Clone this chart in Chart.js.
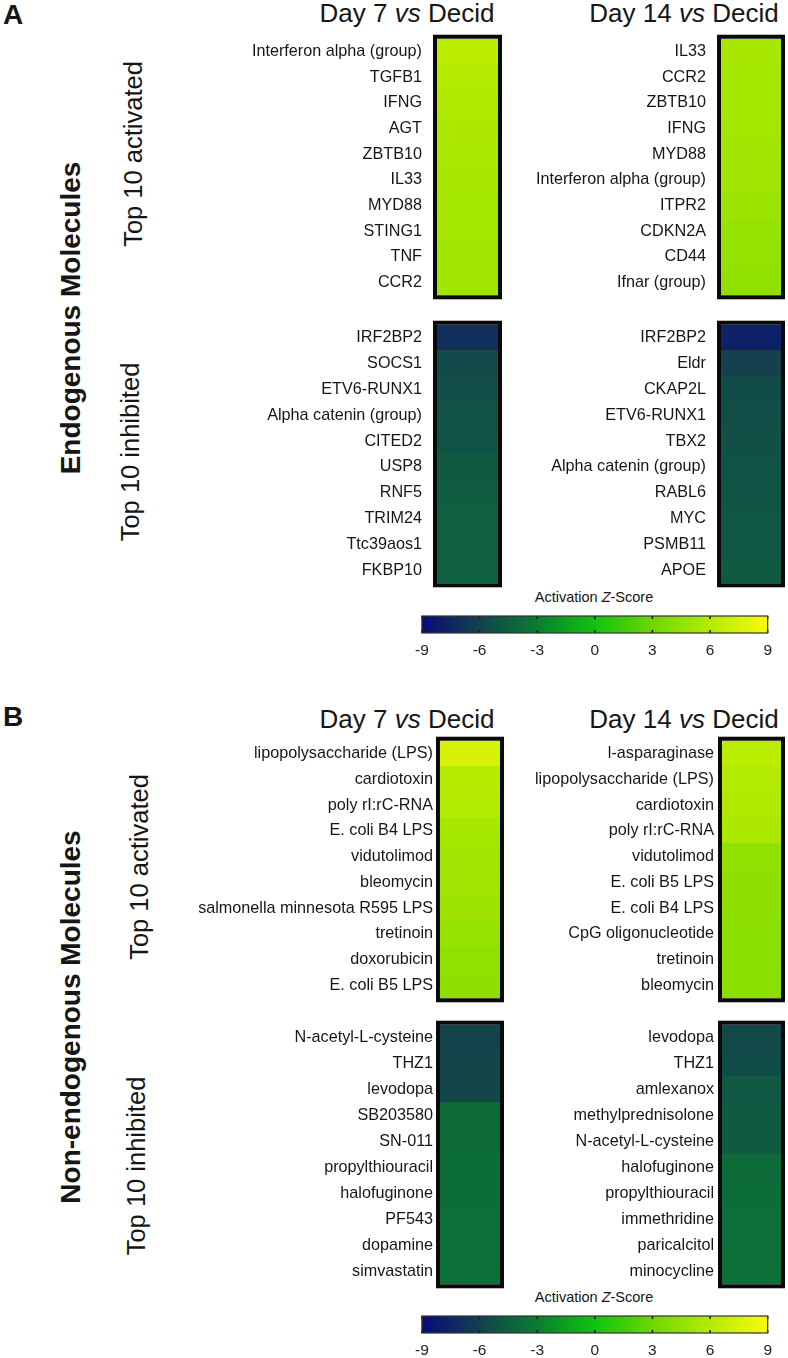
<!DOCTYPE html>
<html>
<head>
<meta charset="utf-8">
<script src="https://cdn.jsdelivr.net/npm/chart.js@4.4.1/dist/chart.umd.min.js"></script>
<style>
html,body{margin:0;padding:0;background:#fff;}
body{width:788px;height:1358px;position:relative;overflow:hidden;font-family:"Liberation Sans",Arial,Helvetica,sans-serif;color:#161616;}
.t{position:absolute;white-space:nowrap;line-height:1;}
.c{transform:translateX(-50%);}
.r{transform:translate(-50%,-50%) rotate(-90deg);}
canvas{position:absolute;}
</style>
</head>
<body>
<div class="t" style="left:3px;top:1px;font-size:28px;font-weight:bold;">A</div>
<div class="t" style="left:3px;top:703px;font-size:28px;font-weight:bold;">B</div>

<div class="t c" style="left:407px;top:0px;font-size:26px;">Day 7 <i>vs</i> Decid</div>
<div class="t c" style="left:684px;top:0px;font-size:26px;">Day 14 <i>vs</i> Decid</div>
<div class="t c" style="left:407px;top:706px;font-size:26px;">Day 7 <i>vs</i> Decid</div>
<div class="t c" style="left:684px;top:706px;font-size:26px;">Day 14 <i>vs</i> Decid</div>

<div class="t r" style="left:71px;top:318px;font-size:28px;font-weight:bold;">Endogenous Molecules</div>
<div class="t r" style="left:134px;top:154px;font-size:25.5px;">Top 10 activated</div>
<div class="t r" style="left:131px;top:452px;font-size:25.5px;">Top 10 inhibited</div>

<div class="t r" style="left:71px;top:1017px;font-size:28px;font-weight:bold;">Non-endogenous Molecules</div>
<div class="t r" style="left:140px;top:867px;font-size:25.5px;">Top 10 activated</div>
<div class="t r" style="left:137px;top:1166px;font-size:25.5px;">Top 10 inhibited</div>

<div class="t c" style="left:594px;top:590px;font-size:14.5px;">Activation <i>Z</i>-Score</div>
<div class="t c" style="left:594px;top:1290px;font-size:14.5px;">Activation <i>Z</i>-Score</div>

<script>
// ---------------- DATA ----------------
const endoD7ActLabels = ["Interferon alpha (group)","TGFB1","IFNG","AGT","ZBTB10","IL33","MYD88","STING1","TNF","CCR2"];
const endoD7ActZ = [6.3, 6.0, 5.8, 5.7, 5.6, 5.5, 5.4, 5.3, 5.2, 5.2];
const endoD14ActLabels = ["IL33","CCR2","ZBTB10","IFNG","MYD88","Interferon alpha (group)","ITPR2","CDKN2A","CD44","Ifnar (group)"];
const endoD14ActZ = [5.5, 5.4, 5.4, 5.3, 5.2, 5.1, 4.9, 4.7, 4.6, 4.5];
const endoD7InhLabels = ["IRF2BP2","SOCS1","ETV6-RUNX1","Alpha catenin (group)","CITED2","USP8","RNF5","TRIM24","Ttc39aos1","FKBP10"];
const endoD7InhZ = [-7.0, -5.5, -5.3, -5.1, -5.0, -4.7, -4.6, -4.5, -4.5, -4.4];
const endoD14InhLabels = ["IRF2BP2","Eldr","CKAP2L","ETV6-RUNX1","TBX2","Alpha catenin (group)","RABL6","MYC","PSMB11","APOE"];
const endoD14InhZ = [-7.8, -6.0, -5.4, -5.3, -5.2, -5.1, -5.0, -4.9, -4.8, -4.7];

const nonD7ActLabels = ["lipopolysaccharide (LPS)","cardiotoxin","poly rI:rC-RNA","E. coli B4 LPS","vidutolimod","bleomycin","salmonella minnesota R595 LPS","tretinoin","doxorubicin","E. coli B5 LPS"];
const nonD7ActZ = [7.5, 6.1, 5.9, 5.4, 5.2, 5.1, 5.0, 4.7, 4.5, 4.4];
const nonD14ActLabels = ["l-asparaginase","lipopolysaccharide (LPS)","cardiotoxin","poly rI:rC-RNA","vidutolimod","E. coli B5 LPS","E. coli B4 LPS","CpG oligonucleotide","tretinoin","bleomycin"];
const nonD14ActZ = [6.3, 5.9, 5.8, 5.7, 4.5, 4.4, 4.4, 4.3, 4.3, 4.2];
const nonD7InhLabels = ["N-acetyl-L-cysteine","THZ1","levodopa","SB203580","SN-011","propylthiouracil","halofuginone","PF543","dopamine","simvastatin"];
const nonD7InhZ = [-5.8, -5.7, -5.7, -3.9, -3.9, -3.8, -3.8, -3.7, -3.7, -3.6];
const nonD14InhLabels = ["levodopa","THZ1","amlexanox","methylprednisolone","N-acetyl-L-cysteine","halofuginone","propylthiouracil","immethridine","paricalcitol","minocycline"];
const nonD14InhZ = [-5.5, -5.4, -4.8, -4.7, -4.7, -3.9, -3.8, -3.7, -3.7, -3.6];

const colorbarTicks = [-9, -6, -3, 0, 3, 6, 9];
const zMin = -9, zMax = 9;

// ---------------- STYLE ----------------
const FONT = '"Liberation Sans", Arial, Helvetica, sans-serif';
const cmapStops = [
  [-9, [10, 10, 120]],
  [-6, [20, 64, 78]],
  [-3, [10, 125, 50]],
  [0, [15, 195, 15]],
  [3, [110, 215, 0]],
  [6, [180, 235, 0]],
  [9, [250, 250, 10]]
];
function zColor(z) {
  z = Math.max(zMin, Math.min(zMax, z));
  for (let i = 0; i < cmapStops.length - 1; i++) {
    const [a, ca] = cmapStops[i], [b, cb] = cmapStops[i + 1];
    if (z >= a && z <= b) {
      const t = (z - a) / (b - a);
      const c = ca.map((v, k) => Math.round(v + (cb[k] - v) * t));
      return `rgb(${c[0]},${c[1]},${c[2]})`;
    }
  }
  return 'rgb(0,0,0)';
}

// place a chart so that its chart area lands exactly on the given box
function placeChart(chart, canvas, box) {
  const a = chart.chartArea;
  const ml = a.left, mt = a.top;
  const mr = canvas.width - a.right, mb = canvas.height - a.bottom;
  chart.resize(Math.round(box.w + ml + mr), Math.round(box.h + mt + mb));
  const a2 = chart.chartArea;
  canvas.style.left = (box.x - a2.left) + 'px';
  canvas.style.top = (box.y - a2.top) + 'px';
}

const boxBorder = {
  id: 'boxBorder',
  afterDatasetsDraw(chart) {
    const {ctx, chartArea: a} = chart;
    ctx.save();
    ctx.lineWidth = 4;
    ctx.strokeStyle = '#0a0a0a';
    ctx.strokeRect(a.left - 2, a.top - 2, a.right - a.left + 4, a.bottom - a.top + 4);
    ctx.restore();
  }
};

function heatmap(labels, values, box, labelW, labelPad) {
  const canvas = document.createElement('canvas');
  canvas.width = labelW + box.w + 8;
  canvas.height = box.h + 40;
  document.body.appendChild(canvas);
  const chart = new Chart(canvas, {
    type: 'bar',
    data: {
      labels: labels,
      datasets: [{
        data: labels.map((l, i) => ({y: l, x: [0, 1], z: values[i]})),
        backgroundColor: c => (c.raw ? zColor(c.raw.z) : '#000'),
        borderWidth: 0,
        inflateAmount: 0.6,
        barPercentage: 1,
        categoryPercentage: 1
      }]
    },
    options: {
      responsive: false,
      maintainAspectRatio: false,
      animation: false,
      indexAxis: 'y',
      layout: {padding: {top: 0, bottom: 0, right: 8, left: 0}},
      plugins: {legend: {display: false}, tooltip: {enabled: false}},
      scales: {
        x: {display: false, min: 0, max: 1},
        y: {
          grid: {display: false, drawTicks: false},
          border: {display: false},
          ticks: {color: '#161616', font: {family: FONT, size: 16.2}, padding: labelPad, autoSkip: false},
          afterFit: s => { s.width = labelW; }
        }
      }
    },
    plugins: [boxBorder]
  });
  placeChart(chart, canvas, box);
}

function colorbar(area) {
  const canvas = document.createElement('canvas');
  canvas.width = area.w + 44;
  canvas.height = area.h + 45;
  document.body.appendChild(canvas);
  const tickMarks = {
    id: 'tickMarks',
    afterDatasetsDraw(chart) {
      const {ctx, chartArea: a} = chart;
      const xs = chart.scales.x;
      ctx.save();
      ctx.strokeStyle = '#1a1a1a';
      ctx.lineWidth = 1.5;
      colorbarTicks.forEach(v => {
        const px = xs.getPixelForValue(v);
        ctx.beginPath();
        ctx.moveTo(px, a.top); ctx.lineTo(px, a.top + 3);
        ctx.moveTo(px, a.bottom); ctx.lineTo(px, a.bottom - 3);
        ctx.stroke();
      });
      ctx.lineWidth = 1.2;
      ctx.strokeStyle = '#333';
      ctx.strokeRect(a.left, a.top, a.right - a.left, a.bottom - a.top);
      ctx.restore();
    }
  };
  const chart = new Chart(canvas, {
    type: 'bar',
    data: {
      labels: ['Activation Z-Score'],
      datasets: [{
        data: [[zMin, zMax]],
        backgroundColor: c => {
          const ch = c.chart;
          const a = ch.chartArea;
          if (!a) return '#0c0';
          const xs = ch.scales.x;
          const g = ch.ctx.createLinearGradient(a.left, 0, a.right, 0);
          cmapStops.forEach(([v, col]) => {
            g.addColorStop((xs.getPixelForValue(v) - a.left) / (a.right - a.left), `rgb(${col[0]},${col[1]},${col[2]})`);
          });
          return g;
        },
        borderWidth: 0,
        barPercentage: 1,
        categoryPercentage: 1
      }]
    },
    options: {
      responsive: false,
      maintainAspectRatio: false,
      animation: false,
      indexAxis: 'y',
      layout: {padding: {top: 4, bottom: 4, left: 12, right: 12}},
      plugins: {legend: {display: false}, tooltip: {enabled: false}},
      scales: {
        y: {display: false},
        x: {
          type: 'linear',
          min: zMin, max: zMax,
          grid: {display: false, drawTicks: false},
          border: {display: false},
          afterBuildTicks: s => { s.ticks = colorbarTicks.map(v => ({value: v})); },
          ticks: {color: '#222', font: {family: FONT, size: 15.5}, padding: 8},
          afterFit: s => { s.height = 28; }
        }
      }
    },
    plugins: [tickMarks]
  });
  placeChart(chart, canvas, area);
}

// Panel A
heatmap(endoD7ActLabels, endoD7ActZ, {x: 437, y: 39, w: 61, h: 257}, 237, 15);
heatmap(endoD14ActLabels, endoD14ActZ, {x: 721, y: 39, w: 60, h: 257}, 221, 15);
heatmap(endoD7InhLabels, endoD7InhZ, {x: 437, y: 325, w: 61, h: 259}, 237, 15);
heatmap(endoD14InhLabels, endoD14InhZ, {x: 721, y: 325, w: 60, h: 259}, 221, 15);
colorbar({x: 422, y: 616, w: 346, h: 17});

// Panel B
heatmap(nonD7ActLabels, nonD7ActZ, {x: 440, y: 741, w: 60, h: 258}, 260, 7);
heatmap(nonD14ActLabels, nonD14ActZ, {x: 722, y: 741, w: 59, h: 258}, 222, 8);
heatmap(nonD7InhLabels, nonD7InhZ, {x: 440, y: 1025, w: 60, h: 260}, 260, 7);
heatmap(nonD14InhLabels, nonD14InhZ, {x: 722, y: 1025, w: 59, h: 260}, 222, 8);
colorbar({x: 422, y: 1316, w: 346, h: 17});
</script>
</body>
</html>
